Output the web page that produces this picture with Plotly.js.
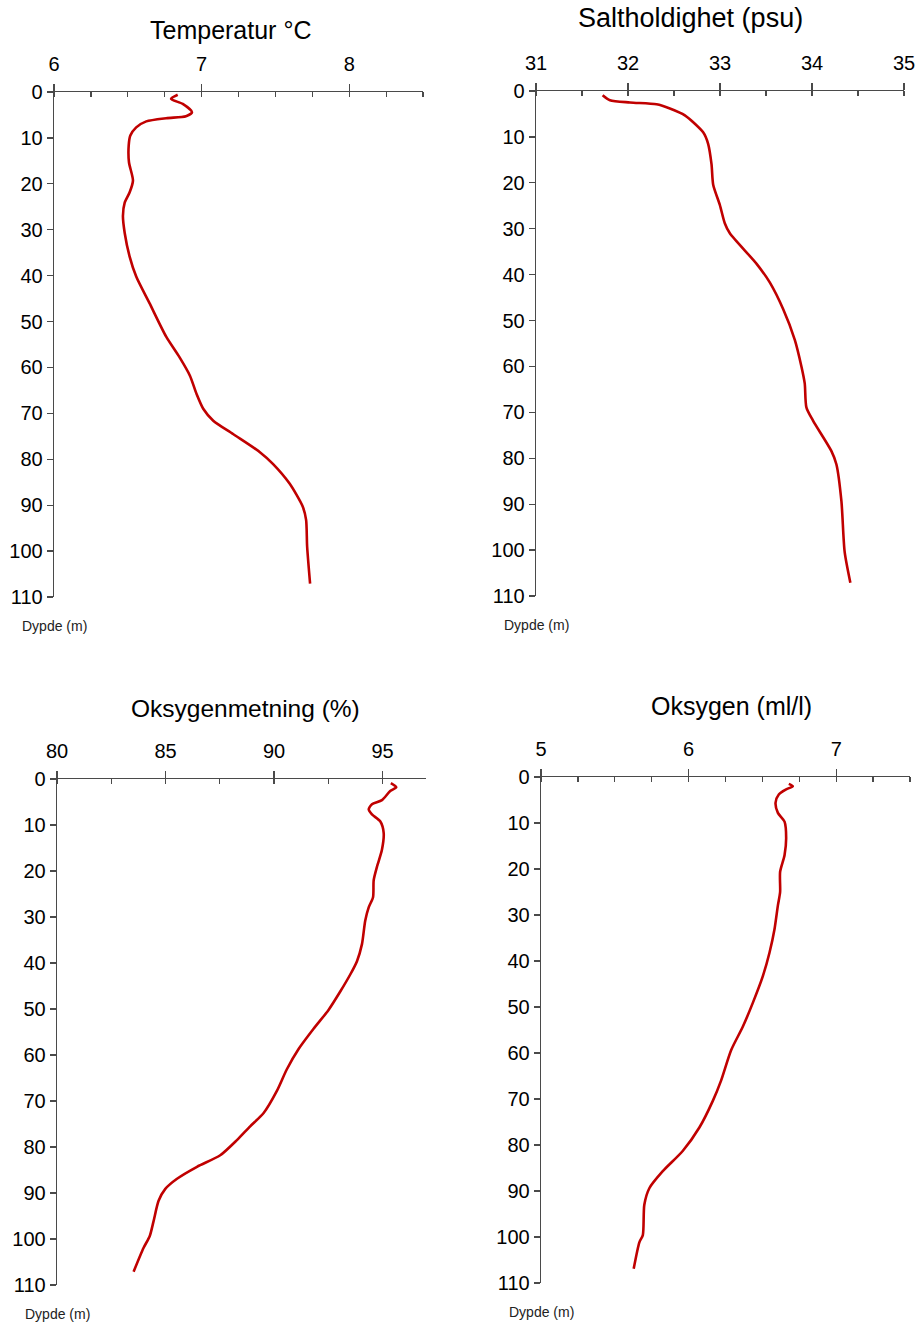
<!DOCTYPE html>
<html>
<head>
<meta charset="utf-8">
<script src="https://cdn.plot.ly/plotly-3.0.1.min.js"></script>
<style>html,body{margin:0;padding:0;background:#fff;}#chart{width:919px;height:1323px;}</style>
</head>
<body>
<div id="chart"></div>
<script>
// ---- Data ----
const tempDepth = [0.6, 1.5, 2.6, 4.4, 5.3, 5.7, 6.4, 7.7, 9.5, 11.7, 15.3, 19.3, 21.9, 24.1, 27.0, 30.7, 35.8, 40.2, 46.0, 53.3, 57.7, 61.8, 65.8, 69.0, 71.6, 74.5, 78.4, 81.0, 85.3, 90.3, 93.2, 99.0, 107.1];
const tempValue = [6.838, 6.793, 6.872, 6.935, 6.894, 6.76, 6.625, 6.557, 6.517, 6.506, 6.508, 6.535, 6.512, 6.479, 6.467, 6.479, 6.512, 6.557, 6.647, 6.76, 6.849, 6.921, 6.966, 7.011, 7.079, 7.213, 7.393, 7.483, 7.596, 7.685, 7.708, 7.715, 7.735];

const saltDepth = [0.9, 2.0, 2.5, 2.9, 3.8, 5.3, 9.0, 11.5, 16.0, 20.4, 24.8, 28.8, 31.0, 37.6, 41.7, 47.5, 54.2, 60.0, 63.7, 68.9, 71.8, 78.4, 81.3, 89.4, 100.4, 107.1];
const saltValue = [31.724, 31.804, 32.021, 32.31, 32.455, 32.618, 32.817, 32.871, 32.908, 32.926, 32.998, 33.052, 33.107, 33.396, 33.541, 33.686, 33.813, 33.885, 33.921, 33.939, 34.011, 34.21, 34.265, 34.32, 34.355, 34.417];

const satDepth = [0.9, 1.8, 2.6, 4.6, 5.5, 6.6, 7.7, 9.2, 11.7, 15.4, 19.1, 22.0, 25.7, 27.9, 30.8, 35.9, 39.6, 42.5, 46.2, 50.2, 54.3, 58.7, 63.1, 67.8, 72.6, 75.5, 78.5, 81.8, 84.3, 86.9, 89.1, 91.7, 96.1, 99.4, 101.9, 107.1];
const satValue = [95.38, 95.63, 95.35, 94.97, 94.51, 94.36, 94.51, 94.89, 95.05, 94.97, 94.74, 94.59, 94.56, 94.36, 94.2, 94.05, 93.82, 93.51, 93.05, 92.51, 91.82, 91.13, 90.59, 90.13, 89.52, 88.9, 88.29, 87.52, 86.45, 85.53, 84.99, 84.68, 84.45, 84.27, 83.99, 83.53];

const oxyDepth = [1.5, 2.0, 2.7, 3.8, 5.6, 7.8, 9.7, 13.3, 17.0, 20.6, 25.0, 27.9, 33.1, 38.2, 43.3, 49.1, 54.3, 59.4, 66.0, 70.4, 76.2, 81.3, 85.7, 89.4, 93.0, 99.6, 101.1, 106.9];
const oxyValue = [6.679, 6.706, 6.661, 6.611, 6.589, 6.605, 6.65, 6.661, 6.65, 6.62, 6.62, 6.605, 6.582, 6.548, 6.503, 6.435, 6.367, 6.288, 6.22, 6.164, 6.073, 5.96, 5.825, 5.734, 5.70, 5.69, 5.667, 5.628];

const titles = ["Temperatur °C", "Saltholdighet (psu)", "Oksygenmetning (%)", "Oksygen (ml/l)"];
const depthLabel = "Dypde (m)";
const xRanges = [[6, 8.5], [31, 35], [80, 97], [5, 7.5]];
const xMajor = [1, 1, 5, 1];
const xMinor = [0.25, 0.5, 2.5, 0.25];
const depthTicks = [0, 10, 20, 30, 40, 50, 60, 70, 80, 90, 100, 110];

// ---- Layout geometry (pixels) ----
const W = 919, H = 1323;
const boxes = [
  {x0: 54, x1: 423, y0: 92, y1: 597, tx: 230, ty: 30, ts: 25},
  {x0: 536, x1: 904, y0: 91, y1: 596, tx: 690, ty: 18, ts: 27},
  {x0: 57, x1: 426, y0: 779, y1: 1285, tx: 245, ty: 708, ts: 24.5},
  {x0: 541, x1: 910, y0: 777, y1: 1283, tx: 731, ty: 706, ts: 25}
];
const series = [[tempValue, tempDepth], [saltValue, saltDepth], [satValue, satDepth], [oxyValue, oxyDepth]];

const FONT = "Liberation Sans, Arial, sans-serif";
const lineColor = "#c00000";
const axisColor = "#4a4a4a";

const traces = [];
const layout = {
  width: W, height: H,
  margin: {l: 0, r: 0, t: 0, b: 0},
  paper_bgcolor: "#fff", plot_bgcolor: "#fff",
  showlegend: false,
  font: {family: FONT, color: "#000"},
  annotations: []
};

boxes.forEach((b, i) => {
  const n = i + 1;
  const xa = n === 1 ? "x" : "x" + n;
  const ya = n === 1 ? "y" : "y" + n;
  traces.push({
    type: "scatter", mode: "lines",
    x: series[i][0], y: series[i][1],
    xaxis: xa, yaxis: ya,
    line: {color: lineColor, width: 2.6, shape: "spline", smoothing: 0.7},
    hoverinfo: "skip"
  });
  layout["xaxis" + (n === 1 ? "" : n)] = {
    domain: [b.x0 / W, b.x1 / W],
    anchor: ya, side: "top",
    range: xRanges[i], autorange: false,
    tick0: xRanges[i][0], dtick: xMajor[i],
    ticks: "outside", ticklen: 7, tickwidth: 1.2, tickcolor: axisColor,
    minor: {dtick: xMinor[i], tick0: xRanges[i][0], ticks: "inside", ticklen: 5, tickwidth: 1.2, tickcolor: axisColor, showgrid: false},
    showline: true, linecolor: axisColor, linewidth: 1.3,
    showgrid: false, zeroline: false,
    tickfont: {family: FONT, size: 20, color: "#000"},
    ticklabelstandoff: 5
  };
  layout["yaxis" + (n === 1 ? "" : n)] = {
    domain: [1 - b.y1 / H, 1 - b.y0 / H],
    anchor: xa,
    range: [110, 0], autorange: false,
    tickvals: depthTicks,
    ticks: "outside", ticklen: 6, tickwidth: 1.2, tickcolor: axisColor,
    showline: true, linecolor: axisColor, linewidth: 1.3,
    showgrid: false, zeroline: false,
    tickfont: {family: FONT, size: 20, color: "#000"},
    ticklabelstandoff: 0
  };
  layout.annotations.push({
    text: titles[i], xref: "paper", yref: "paper",
    x: b.tx / W, y: 1 - b.ty / H,
    xanchor: "center", yanchor: "middle", showarrow: false,
    font: {family: FONT, size: b.ts, color: "#000"}
  });
  layout.annotations.push({
    text: depthLabel, xref: "paper", yref: "paper",
    x: (b.x0 - 34) / W, y: 1 - (b.y1 + 29) / H,
    xanchor: "left", yanchor: "middle", showarrow: false,
    font: {family: FONT, size: 14, color: "#222"}
  });
});

Plotly.newPlot("chart", traces, layout, {staticPlot: true, displayModeBar: false});
</script>
</body>
</html>
